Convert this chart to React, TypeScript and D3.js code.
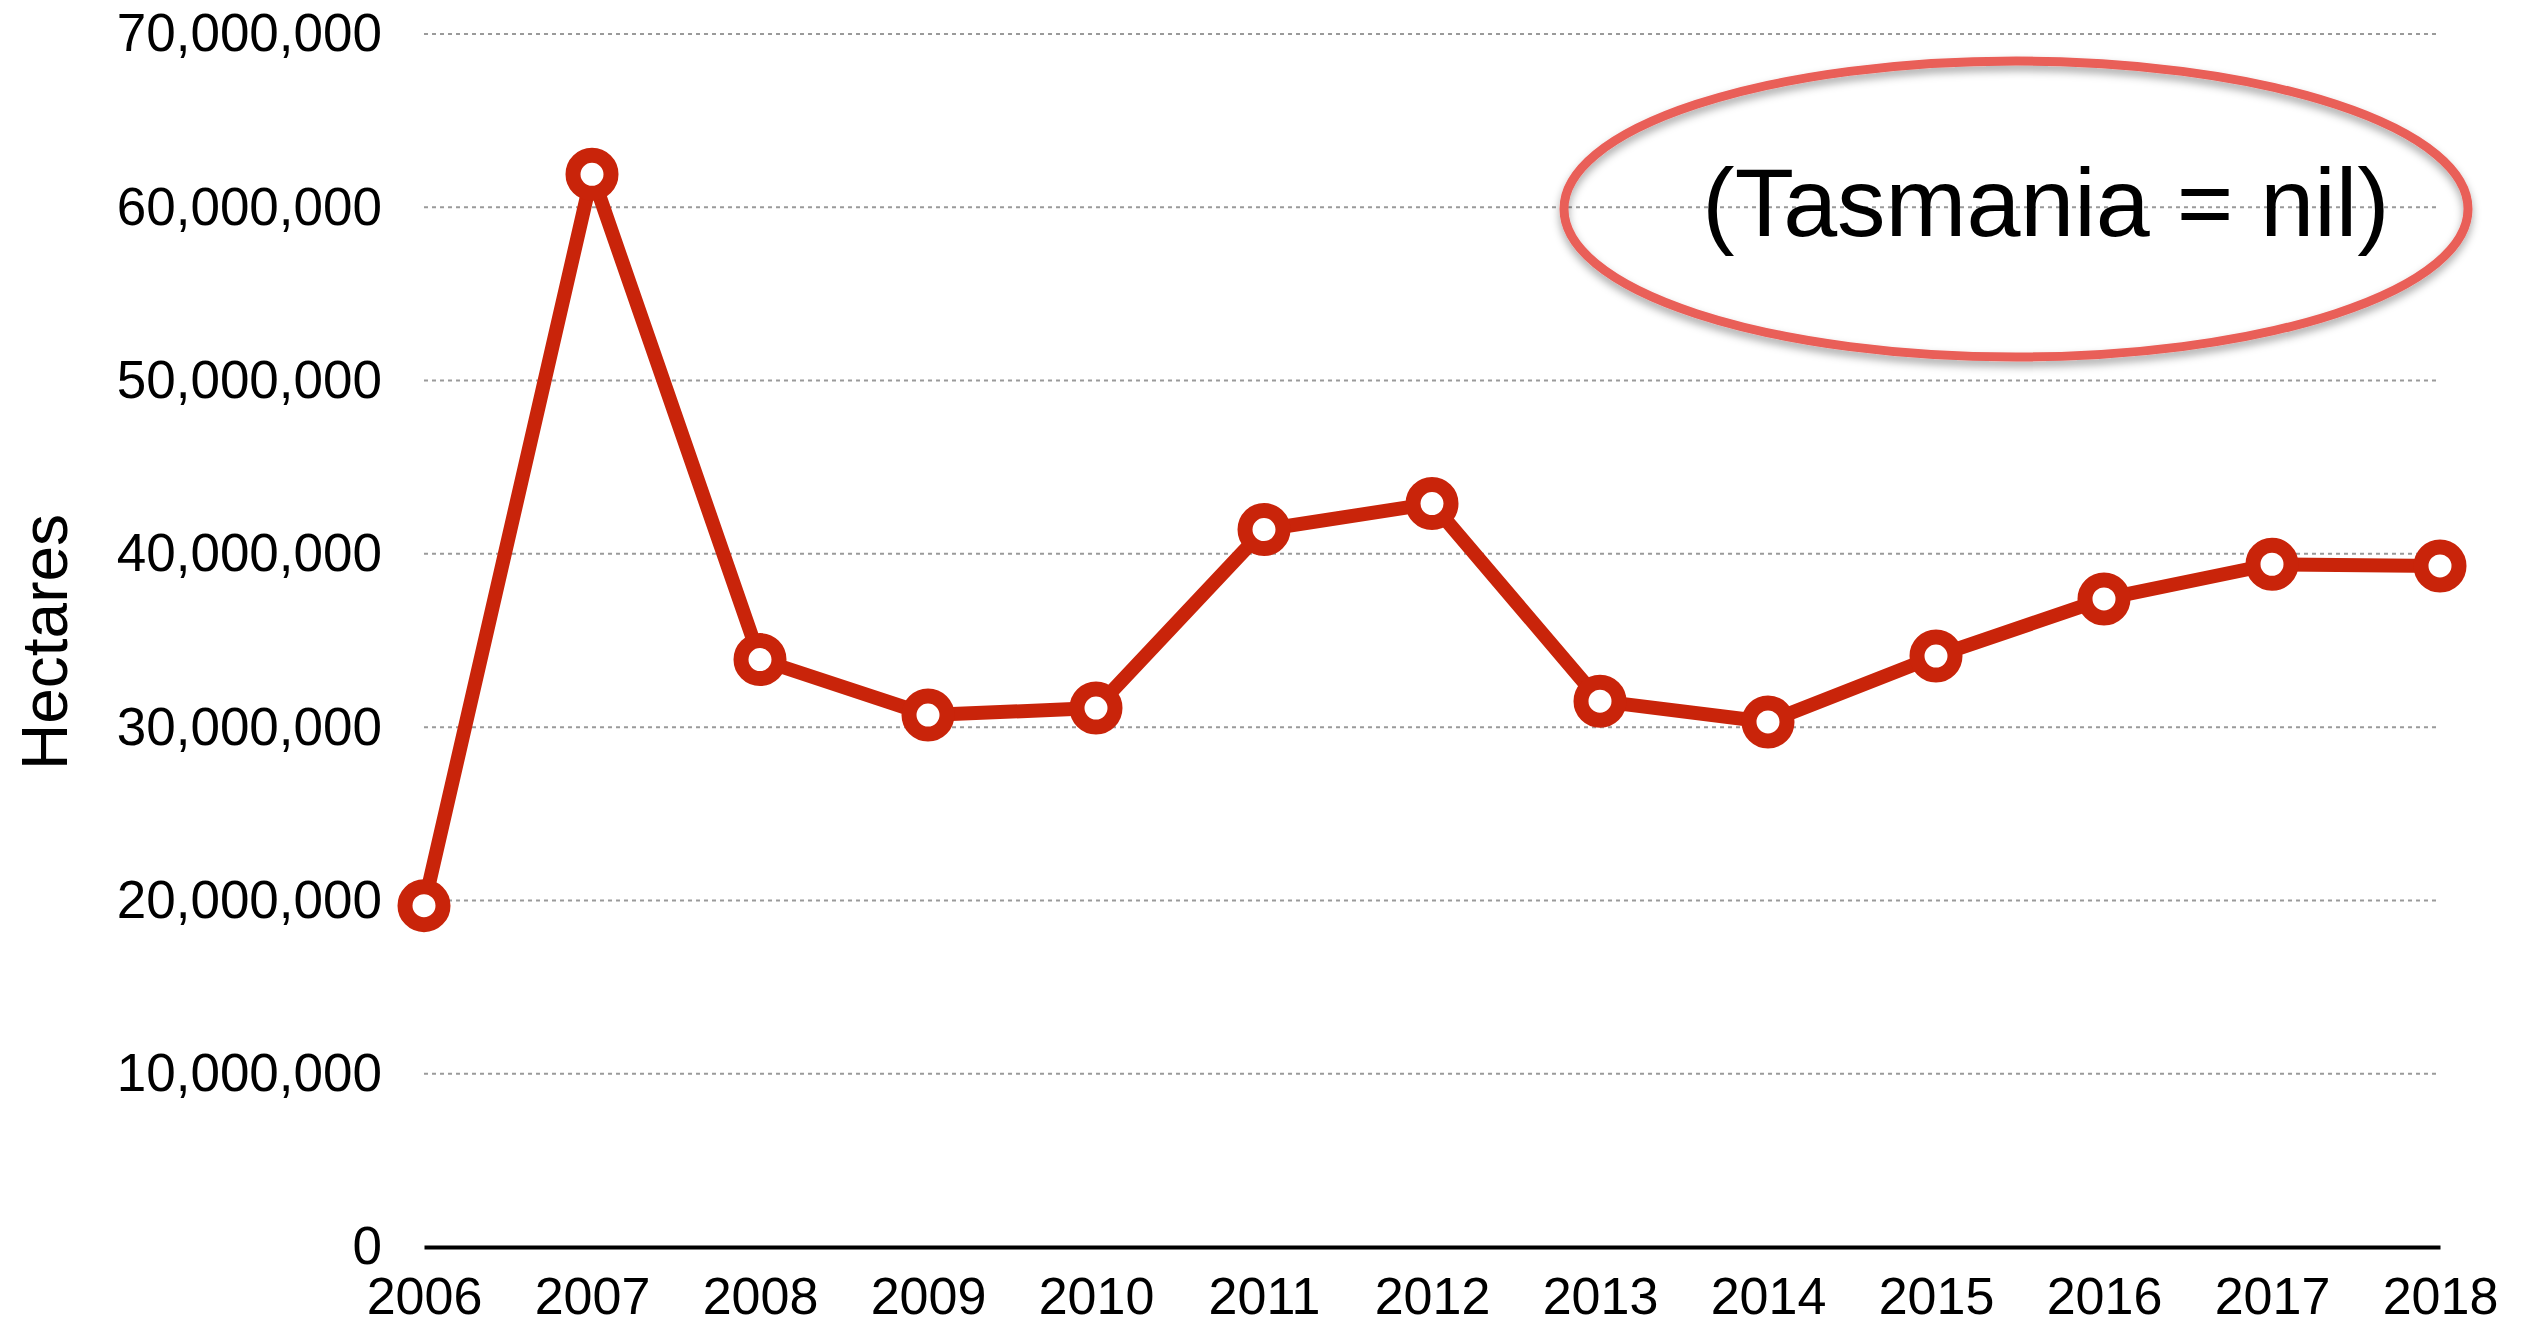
import { useRef, useEffect } from "react";
import * as d3 from "d3";

// Years on the x axis
const years = [2006, 2007, 2008, 2009, 2010, 2011, 2012, 2013, 2014, 2015, 2016, 2017, 2018];

// Area burnt, hectares
const hectares = [
  19700000, 61900000, 33900000, 30700000, 31100000, 41400000, 42900000,
  31500000, 30300000, 34100000, 37400000, 39400000, 39300000,
];

const yTicks = [0, 10000000, 20000000, 30000000, 40000000, 50000000, 60000000, 70000000];

const yLabel = "Hectares";
const note = "(Tasmania = nil)";

const WIDTH = 2536;
const HEIGHT = 1328;

const App = () => {
  const svgRef = useRef<SVGSVGElement | null>(null);

  useEffect(() => {
    if (!svgRef.current) return;

    const margin = { top: 34, right: 96, bottom: 81, left: 424 };
    const innerWidth = WIDTH - margin.left - margin.right;
    const innerHeight = HEIGHT - margin.top - margin.bottom;
    const font = "'Liberation Sans', Arial, sans-serif";

    const svg = d3.select(svgRef.current);
    svg.selectAll("*").remove(); // Clear old chart

    const defs = svg.append("defs");
    const shadow = defs.append("filter").attr("id", "shadow")
      .attr("x", "-10%").attr("y", "-10%").attr("width", "120%").attr("height", "130%");
    shadow.append("feDropShadow")
      .attr("dx", 0).attr("dy", 5).attr("stdDeviation", 4)
      .attr("flood-color", "#000").attr("flood-opacity", 0.35);

    const g = svg.append("g").attr("transform", `translate(${margin.left},${margin.top})`);

    const x = d3.scaleLinear().domain([2006, 2018]).range([0, innerWidth]);
    const y = d3.scaleLinear().domain([0, 70000000]).range([innerHeight, 0]);

    // Grid lines
    g.append("g")
      .selectAll("line")
      .data(yTicks.filter((t) => t > 0))
      .enter()
      .append("line")
      .attr("x1", 0)
      .attr("x2", innerWidth - 3)
      .attr("y1", (d) => y(d))
      .attr("y2", (d) => y(d))
      .attr("stroke", "#9a9a9a")
      .attr("stroke-width", 2)
      .attr("stroke-dasharray", "4,4");

    // Y axis labels
    const yAxis = g.append("g").call(
      d3.axisLeft(y).tickValues(yTicks).tickSize(0).tickPadding(42).tickFormat((d) => d3.format(",")(d as number))
    );
    yAxis.select(".domain").remove();
    yAxis.selectAll("text")
      .attr("font-family", font)
      .attr("font-size", 53)
      .attr("fill", "#000");

    // X axis
    const xAxis = g.append("g")
      .attr("transform", `translate(0,${innerHeight})`)
      .call(d3.axisBottom(x).tickValues(years).tickSize(0).tickPadding(30).tickFormat((d) => String(d)));
    xAxis.select(".domain").attr("stroke", "#000").attr("stroke-width", 4);
    xAxis.selectAll("text")
      .attr("font-family", font)
      .attr("font-size", 52)
      .attr("fill", "#000");

    // Y axis title
    svg.append("text")
      .attr("transform", `translate(67,642) rotate(-90)`)
      .attr("text-anchor", "middle")
      .attr("font-family", font)
      .attr("font-size", 64)
      .attr("fill", "#000")
      .text(yLabel);

    // Line
    const line = d3.line<number>()
      .x((_, i) => x(years[i]))
      .y((d) => y(d));

    g.append("path")
      .datum(hectares)
      .attr("d", line)
      .attr("fill", "none")
      .attr("stroke", "#c9240a")
      .attr("stroke-width", 14)
      .attr("stroke-linejoin", "round");

    // Markers
    g.selectAll("circle.pt")
      .data(hectares)
      .enter()
      .append("circle")
      .attr("class", "pt")
      .attr("cx", (_, i) => x(years[i]))
      .attr("cy", (d) => y(d))
      .attr("r", 19)
      .attr("fill", "#fff")
      .attr("stroke", "#c9240a")
      .attr("stroke-width", 15);

    // Note ellipse
    svg.append("ellipse")
      .attr("cx", 2016)
      .attr("cy", 209)
      .attr("rx", 452)
      .attr("ry", 148)
      .attr("fill", "none")
      .attr("stroke", "#e95e58")
      .attr("stroke-width", 9)
      .attr("filter", "url(#shadow)");

    svg.append("text")
      .attr("x", 2046)
      .attr("y", 236)
      .attr("text-anchor", "middle")
      .attr("font-family", font)
      .attr("font-size", 97)
      .attr("fill", "#000")
      .text(note);
  }, []);

  return (
    <svg
      ref={svgRef}
      width={WIDTH}
      height={HEIGHT}
      style={{ position: "absolute", left: 0, top: 0, background: "#fff" }}
    ></svg>
  );
};

export default App;
